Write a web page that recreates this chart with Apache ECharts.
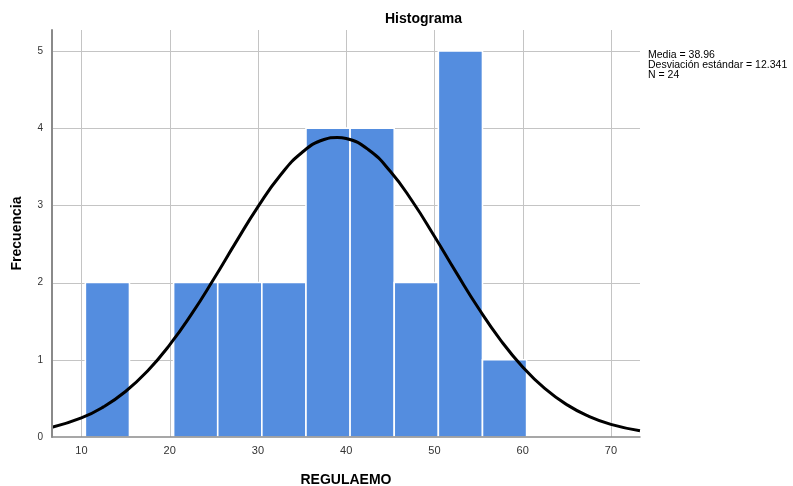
<!DOCTYPE html>
<html><head><meta charset="utf-8">
<script src="https://cdn.jsdelivr.net/npm/echarts@6/dist/echarts.min.js"></script>
<style>html,body{margin:0;padding:0;background:#fff}#c{width:793px;height:486px}</style>
</head><body><div id="c"></div>
<script>
// Histogram bins (start of each bin, width 5) and frequencies
const binStarts = [10.45, 15.45, 20.45, 25.45, 30.45, 35.45, 40.45, 45.45, 50.45, 55.45];
const binWidth = 5;
const counts = [2, 0, 2, 2, 2, 4, 4, 2, 5, 1];
// Normal curve points
const curveX = [6.67, 10, 12.5, 15, 17.5, 20, 22.5, 25, 27.5, 30, 32.5, 35, 37.5, 39, 40, 42.5, 45, 47.5, 50, 52.5, 55, 57.5, 60, 62.5, 65, 67.5, 70, 73.3];
const curveY = [0.126, 0.247, 0.390, 0.589, 0.855, 1.192, 1.594, 2.046, 2.520, 2.980, 3.383, 3.684, 3.852, 3.879, 3.865, 3.723, 3.441, 3.053, 2.600, 2.125, 1.667, 1.255, 0.907, 0.629, 0.419, 0.268, 0.164, 0.081];
const xTicks = [10, 20, 30, 40, 50, 60, 70];
const yTicks = [0, 1, 2, 3, 4, 5];
const statsLines = ['Media = 38.96', 'Desviación estándar = 12.341', 'N = 24'];

const chart = echarts.init(document.getElementById('c'), null, {renderer: 'canvas'});
const barData = binStarts.map((s, i) => [s, s + binWidth, counts[i]]);
chart.setOption({
  animation: false,
  backgroundColor: '#fff',
  title: {
    text: 'Histograma', left: 380, top: 7,
    textStyle: {fontFamily: 'Liberation Sans, Arial', fontSize: 14, fontWeight: 'bold', color: '#000'}
  },
  graphic: [{
    type: 'text', left: 648, top: 50,
    style: {text: statsLines.join('\n'), font: '10.5px "Liberation Sans", Arial', fill: '#000', lineHeight: 10}
  }],
  grid: {left: 52, right: 153, top: 30, bottom: 49, containLabel: false, outerBoundsMode: 'none'},
  xAxis: {
    type: 'value', min: 6.67, max: 73.3, z: 5,
    name: 'REGULAEMO', nameLocation: 'middle', nameGap: 36,
    nameTextStyle: {fontFamily: 'Liberation Sans, Arial', fontSize: 14, fontWeight: 'bold', color: '#000'},
    axisLine: {show: true, lineStyle: {color: '#8a8a8a', width: 1.5}},
    axisTick: {show: false},
    axisLabel: {
      color: '#333', fontSize: 11, fontFamily: 'Liberation Sans, Arial', margin: 8,
      customValues: xTicks, formatter: v => String(v)
    },
    splitLine: {show: false}
  },
  yAxis: {
    type: 'value', min: 0, max: 5.27, z: 5,
    name: 'Frecuencia', nameLocation: 'middle', nameGap: 28, nameRotate: 90,
    nameTextStyle: {fontFamily: 'Liberation Sans, Arial', fontSize: 14, fontWeight: 'bold', color: '#000'},
    axisLine: {show: true, lineStyle: {color: '#8a8a8a', width: 2}},
    axisTick: {show: false},
    axisLabel: {
      color: '#333', fontSize: 10, fontFamily: 'Liberation Sans, Arial', margin: 9,
      customValues: yTicks, formatter: v => String(v)
    },
    splitLine: {show: false}
  },
  series: [
    {
      // grid lines, built from tick arrays
      type: 'custom', silent: true, z: 1,
      data: [0],
      renderItem: function (params, api) {
        const children = [];
        const top = api.coord([6.67, 5.27])[1];
        const bottom = api.coord([6.67, 0])[1];
        const left = api.coord([6.67, 0])[0];
        const right = api.coord([73.3, 0])[0];
        xTicks.forEach(t => {
          const x = Math.round(api.coord([t, 0])[0]) + 0.5;
          children.push({type: 'line', shape: {x1: x, y1: top, x2: x, y2: bottom}, style: {stroke: '#c4c4c4', lineWidth: 1}});
        });
        yTicks.slice(1).forEach(t => {
          const y = Math.round(api.coord([0, t])[1]) + 0.5;
          children.push({type: 'line', shape: {x1: left, y1: y, x2: right, y2: y}, style: {stroke: '#c4c4c4', lineWidth: 1}});
        });
        return {type: 'group', children: children};
      }
    },
    {
      type: 'custom', z: 2,
      data: barData,
      encode: {x: [0, 1], y: 2},
      renderItem: function (params, api) {
        const p0 = api.coord([api.value(0), 0]);
        const p1 = api.coord([api.value(1), api.value(2)]);
        if (api.value(2) <= 0) return null;
        return {
          type: 'rect',
          shape: {x: p0[0], y: p1[1], width: p1[0] - p0[0], height: p0[1] - p1[1]},
          style: {fill: '#548ddf', stroke: '#ffffff', lineWidth: 1.6}
        };
      }
    },
    {
      type: 'line', z: 3,
      data: curveX.map((x, i) => [x, curveY[i]]),
      smooth: true, showSymbol: false, symbol: 'none',
      lineStyle: {color: '#000', width: 3},
      clip: true
    }
  ]
});
</script></body></html>
